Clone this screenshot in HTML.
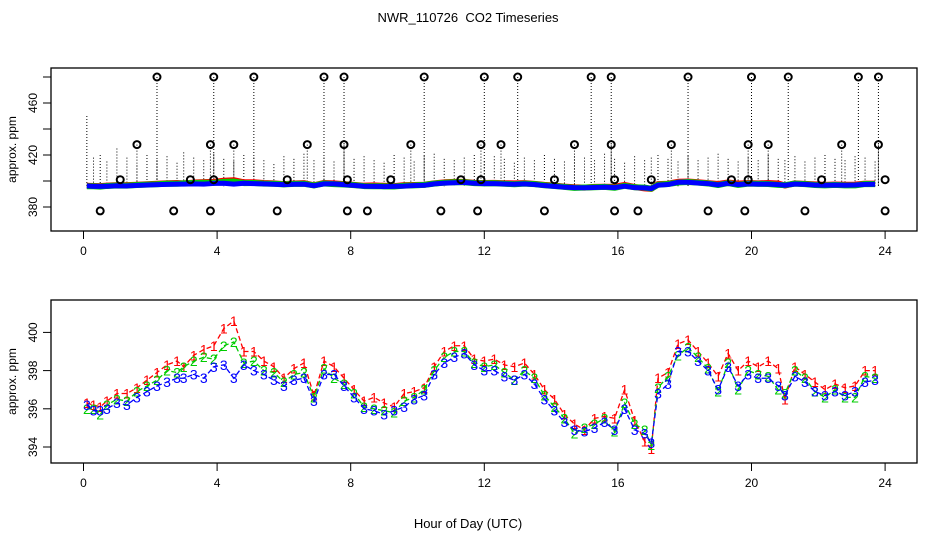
<!DOCTYPE html>
<html><head><meta charset="utf-8"><style>
body{margin:0;background:#fff;}
svg{display:block;font-family:"Liberation Sans",sans-serif;}
</style></head><body>
<svg id="chart" width="936" height="540" xmlns="http://www.w3.org/2000/svg">
<text x="468" y="22" font-size="13" text-anchor="middle" style="white-space:pre">NWR_110726  CO2 Timeseries</text>
<text x="468" y="528" font-size="13" text-anchor="middle">Hour of Day (UTC)</text>
<g id="topPanel"></g>
<g id="botPanel"></g>
</svg>
<script>
const hours=[0.1,0.3,0.5,0.7,1.0,1.3,1.6,1.9,2.2,2.5,2.8,3.0,3.3,3.6,3.9,4.2,4.5,4.8,5.1,5.4,5.7,6.0,6.3,6.6,6.9,7.2,7.5,7.8,8.1,8.4,8.7,9.0,9.3,9.6,9.9,10.2,10.5,10.8,11.1,11.4,11.7,12.0,12.3,12.6,12.9,13.2,13.5,13.8,14.1,14.4,14.7,15.0,15.3,15.6,15.9,16.2,16.5,16.8,17.0,17.2,17.5,17.8,18.1,18.4,18.7,19.0,19.3,19.6,19.9,20.2,20.5,20.8,21.0,21.3,21.6,21.9,22.2,22.5,22.8,23.1,23.4,23.7];
const series3=[396.2,395.9,395.9,396.0,396.3,396.2,396.6,396.9,397.2,397.4,397.6,397.6,397.8,397.6,398.2,398.3,397.6,398.3,398.0,397.8,397.5,397.2,397.5,397.6,396.4,397.8,397.8,397.2,396.6,396.0,395.9,395.7,395.9,396.1,396.5,396.7,397.8,398.4,398.7,398.9,398.3,398.0,398.0,397.7,397.5,397.8,397.3,396.5,395.9,395.3,394.9,394.8,395.0,395.3,394.9,396.0,394.9,394.7,394.2,396.8,397.3,399.0,399.0,398.5,398.0,397.0,398.2,397.2,397.8,397.6,397.6,397.2,396.7,397.7,397.4,396.9,396.7,396.9,396.7,396.9,397.4,397.5];
const series2=[396.0,396.0,395.7,396.2,396.5,396.4,396.9,397.2,397.5,398.0,397.9,398.2,398.5,398.7,398.6,399.3,399.5,398.4,398.5,398.0,397.9,397.4,397.8,397.9,396.6,398.1,397.6,397.3,396.8,396.1,396.0,395.9,395.8,396.4,396.6,397.0,398.0,398.7,399.0,399.0,398.4,398.2,398.3,397.9,397.5,398.0,397.6,396.7,396.1,395.5,394.7,395.0,395.2,395.5,394.8,396.3,395.2,394.9,394.1,397.1,397.7,398.8,399.2,398.7,398.1,396.9,398.4,397.0,398.0,397.8,397.7,397.0,396.8,398.0,397.6,396.9,396.6,397.0,396.6,396.6,397.7,397.6];
const series1=[396.3,396.2,396.1,396.4,396.8,396.8,397.1,397.5,397.9,398.3,398.5,398.2,398.8,399.1,399.3,400.2,400.6,399.0,399.0,398.5,398.2,397.6,398.1,398.4,396.7,398.5,398.2,397.6,397.0,396.4,396.6,396.3,396.1,396.8,396.9,397.1,398.2,399.0,399.3,399.3,398.6,398.5,398.6,398.3,398.2,398.4,397.8,397.0,396.5,395.7,395.2,394.9,395.5,395.6,395.5,397.0,395.4,394.3,393.9,397.6,397.9,399.4,399.6,399.0,398.4,397.7,398.9,398.0,398.5,398.2,398.5,398.1,396.5,398.2,397.8,397.4,397.0,397.3,397.1,397.2,398.0,398.0];
const xTicks=[0,4,8,12,16,20,24];
const topYTicks=[380,420,460];
const topMinorTicks=[400,440,480];
const botYTicks=[394,396,398,400];
const outHours480=[2.2,3.9,5.1,7.2,7.8,10.2,12.0,13.0,15.2,15.8,18.1,20.0,21.1,23.2,23.8];
const outHours428=[1.6,3.8,4.5,6.7,7.8,9.8,11.9,12.5,14.7,15.8,17.6,19.9,20.5,22.7,23.8];
const outHours401=[1.1,3.2,3.9,6.1,7.9,9.2,11.3,11.9,14.1,15.9,17.0,19.4,19.9,22.1,24.0];
const outHours377=[0.5,2.7,3.8,5.8,7.9,8.5,10.7,11.8,13.8,15.9,16.6,18.7,19.8,21.6,24.0];
const whiskerTops=[450,418,420,415,425,418,412,420,416,419,414,422,418,416,421,417,415,420,418,416,413,419,417,421,416,418,415,420,417,419,416,414,420,418,415,419,421,417,416,418,420,415,419,417,414,418,416,420,417,415,419,418,416,421,417,414,419,416,418,420,417,415,419,416,418,421,417,415,418,416,420,417,416,419,415,418,420,417,416,419,418,415];

const NS="http://www.w3.org/2000/svg";
function mk(p,tag,attrs){const e=document.createElementNS(NS,tag);for(const k in attrs)e.setAttribute(k,attrs[k]);p.appendChild(e);return e;}
const xs=h=>83.5+h*33.4;
const yTop=v=>207-(v-380)*1.3;
const yBot=v=>447-(v-394)*19.1;

function frame(g,y0,y1,yTicks,yf,name){
  const r=mk(g,'rect',{x:51,y:y0,width:866,height:y1-y0,fill:'none',stroke:'#000','stroke-width':1.3});
  
  
  xTicks.forEach(t=>{
    const x=xs(t);
    const l=mk(g,'line',{x1:x,x2:x,y1:y1,y2:y1+8,stroke:'#000'});
    
    
    const tx=mk(g,'text',{x:x,y:y1+24,'font-size':12,'text-anchor':'middle'});tx.textContent=t;
    
    
  });
  yTicks.forEach(t=>{
    const y=yf(t);
    const l=mk(g,'line',{x1:43,x2:51,y1:y,y2:y,stroke:'#000'});
    
    
    const tx=mk(g,'text',{x:0,y:0,'font-size':12,'text-anchor':'middle',transform:`translate(37,${y}) rotate(-90)`});tx.textContent=t;
    
    
  });
  const yl=mk(g,'text',{x:0,y:0,'font-size':12,'text-anchor':'middle',transform:`translate(16,${(y0+y1)/2}) rotate(-90)`});yl.textContent='approx. ppm';
  
  
}
const topG=document.getElementById('topPanel'),botG=document.getElementById('botPanel');
frame(topG,68,231,topYTicks,yTop,'top');
topMinorTicks.forEach(t=>{const l=mk(topG,'line',{x1:43,x2:51,y1:yTop(t),y2:yTop(t),stroke:'#000'});

});
frame(botG,300,463,botYTicks,yBot,'bottom');

hours.forEach((h,i)=>{
  const l=mk(topG,'line',{x1:xs(h),x2:xs(h),y1:yTop(whiskerTops[i]),y2:yTop(396),stroke:'#000','stroke-dasharray':'1,2'});
  
  
});
[[outHours480,480],[outHours428,428]].forEach(([arr,v])=>arr.forEach(h=>{
  const l=mk(topG,'line',{x1:xs(h),x2:xs(h),y1:yTop(v),y2:yTop(396),stroke:'#000','stroke-dasharray':'1,2'});
  
  
}));
[[series1,'#f00'],[series2,'#0c0'],[series3,'#00f']].forEach(([s,c],k)=>{
  const pts=hours.map((h,i)=>xs(h)+','+yTop(s[i])).join(' ');
  const p=mk(topG,'polyline',{points:pts,fill:'none',stroke:c,'stroke-width':k==2?5:6,'stroke-linejoin':'round'});
  
  
});
[[outHours480,480],[outHours428,428],[outHours401,401],[outHours377,377]].forEach(([arr,v])=>arr.forEach(h=>{
  const c=mk(topG,'circle',{cx:xs(h),cy:yTop(v),r:3.5,fill:'none',stroke:'#000','stroke-width':2});
  
  
}));

[[series1,'#f00','1'],[series2,'#0c0','2'],[series3,'#00f','3']].forEach(([s,c,ch])=>{
  const pts=hours.map((h,i)=>xs(h)+','+yBot(s[i])).join(' ');
  const p=mk(botG,'polyline',{points:pts,fill:'none',stroke:c,'stroke-width':1.3,'stroke-dasharray':'5,3'});
  
  
  hours.forEach((h,i)=>{
    const t=mk(botG,'text',{x:xs(h),y:yBot(s[i])+5,'font-size':14,'text-anchor':'middle',fill:c});t.textContent=ch;
    
    
  });
});
</script>
</body></html>
